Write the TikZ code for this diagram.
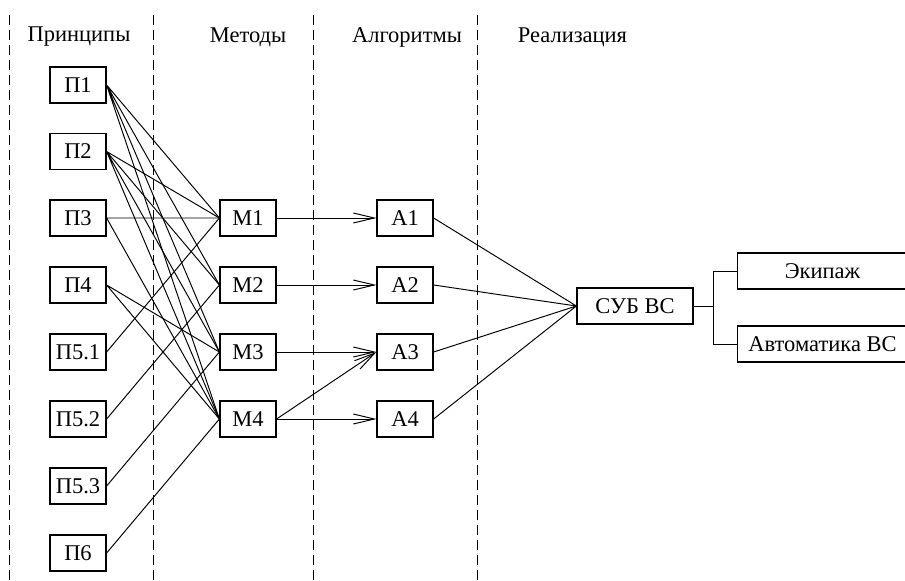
\documentclass[tikz,border=0pt]{standalone}
\usepackage{fontspec}
\setmainfont{Liberation Serif}
\usetikzlibrary{arrows.meta,shapes}

\begin{document}
\begin{tikzpicture}

		\tikzstyle{every node}=[font=\fontsize{12.8}{15}\selectfont]
		\tikzstyle{blok}=[draw, line width=0.7pt, minimum width=1.12cm, minimum height=0.72cm, inner sep=0pt]
		\tikzstyle{svyaz}=[line width=0.55pt]
		\tikzstyle{strelka}=[line width=0.55pt, -{Straight Barb[length=0.42cm,width=0.2cm]}]
		\tikzstyle{granica}=[line width=0.45pt, dash pattern=on 0.2cm off 0.1cm]

		\useasboundingbox (0,0) rectangle (18.1,-11.6);

		% columns
		\draw[granica] (0.18,-0.3) -- (0.18,-11.6);
		\draw[granica] (3.06,-0.3) -- (3.06,-11.6);
		\draw[granica] (6.26,-0.3) -- (6.26,-11.6);
		\draw[granica] (9.54,-0.3) -- (9.54,-11.6);

		\node (h1) at (1.58,-0.74) {Принципы};
		\node (h2) at (4.96,-0.74) {Методы};
		\node (h3) at (8.14,-0.74) {Алгоритмы};
		\node (h4) at (11.45,-0.74) {Реализация};

		% principles
		\node[blok] (p1) at (1.56,-1.7) {П1};
		\node[blok] (p2) at (1.56,-3.03) {П2};
		\node[blok] (p3) at (1.56,-4.36) {П3};
		\node[blok] (p4) at (1.56,-5.7) {П4};
		\node[blok] (p51) at (1.56,-7.04) {П5.1};
		\node[blok] (p52) at (1.56,-8.38) {П5.2};
		\node[blok] (p53) at (1.56,-9.72) {П5.3};
		\node[blok] (p6) at (1.56,-11.06) {П6};

		% methods
		\node[blok] (m1) at (4.96,-4.36) {М1};
		\node[blok] (m2) at (4.96,-5.7) {М2};
		\node[blok] (m3) at (4.96,-7.04) {М3};
		\node[blok] (m4) at (4.96,-8.38) {М4};

		% algorithms
		\node[blok] (a1) at (8.1,-4.36) {А1};
		\node[blok] (a2) at (8.1,-5.7) {А2};
		\node[blok] (a3) at (8.1,-7.04) {А3};
		\node[blok] (a4) at (8.1,-8.38) {А4};

		% realisation
		\node[blok, minimum width=2.32cm] (sub) at (12.7,-6.12) {СУБ ВС};
		\node[blok, minimum width=3.4cm] (ek) at (16.45,-5.42) {Экипаж};
		\node[blok, minimum width=3.4cm] (avt) at (16.45,-6.88) {Автоматика ВС};

		\draw[svyaz] (p1.east) -- (m1.west) (p1.east) -- (m2.west) (p1.east) -- (m3.west) (p1.east) -- (m4.west);
		\draw[svyaz] (p2.east) -- (m1.west) (p2.east) -- (m2.west) (p2.east) -- (m3.west) (p2.east) -- (m4.west);
		\draw[svyaz] (p3.east) -- (m1.west) (p3.east) -- (m4.west);
		\draw[svyaz] (p4.east) -- (m3.west) (p4.east) -- (m4.west);
		\draw[svyaz] (p51.east) -- (m1.west);
		\draw[svyaz] (p52.east) -- (m2.west);
		\draw[svyaz] (p53.east) -- (m3.west);
		\draw[svyaz] (p6.east) -- (m4.west);

		\draw[strelka] (m1.east) -- (a1.west);
		\draw[strelka] (m2.east) -- (a2.west);
		\draw[strelka] (m3.east) -- (a3.west);
		\draw[strelka] (m4.east) -- (a4.west);
		\draw[strelka] (m4.east) -- (a3.west);

		\draw[svyaz] (a1.east) -- (sub.west) (a2.east) -- (sub.west) (a3.east) -- (sub.west) (a4.east) -- (sub.west);

		\draw[svyaz] (sub.east) -- ++(0.4,0) coordinate (vetv);
		\draw[svyaz] (vetv) |- (ek.west);
		\draw[svyaz] (vetv) |- (avt.west);

\end{tikzpicture}
\end{document}
